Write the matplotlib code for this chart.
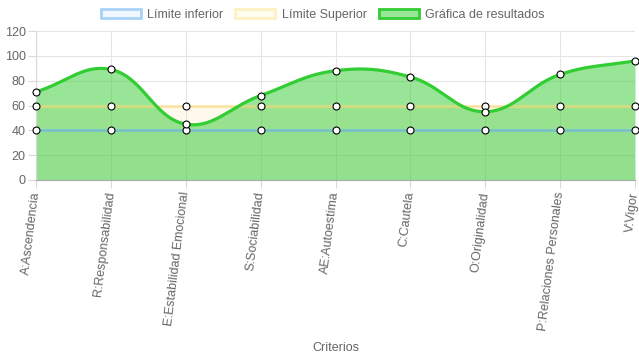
"""Line chart: results vs lower/upper limits per criterion."""

import matplotlib
matplotlib.use("Agg")
import matplotlib.pyplot as plt
import numpy as np
from matplotlib.patches import Rectangle

plt.rcParams["font.family"] = ["Liberation Sans", "DejaVu Sans"]

categories = [
    "A:Ascendencia",
    "R:Responsabilidad",
    "E:Estabilidad Emocional",
    "S:Sociabilidad",
    "AE:Autoestima",
    "C:Cautela",
    "O:Originalidad",
    "P:Relaciones Personales",
    "V:Vigor",
]
lower_limit = [40, 40, 40, 40, 40, 40, 40, 40, 40]
upper_limit = [60, 60, 60, 60, 60, 60, 60, 60, 60]
results = [71, 89, 45, 68, 88, 83, 55, 85, 96]
y_ticks = [0, 20, 40, 60, 80, 100, 120]

GREEN = "#32cd32"
GREEN_FILL = (50 / 255, 205 / 255, 50 / 255, 0.5)
BLUE = (110 / 255, 178 / 255, 235 / 255, 0.6)
BLUE_FILL = (54 / 255, 162 / 255, 235 / 255, 0.06)
YELLOW = (255 / 255, 222 / 255, 120 / 255, 0.55)
YELLOW_FILL = (255 / 255, 205 / 255, 86 / 255, 0.1)
TEXT = "#666666"


def spline_path(xp, yp, tension=0.4):
    """Chart.js-style bezier control points, computed in pixel space."""
    n = len(xp)
    cps = []
    for i in range(n):
        prev = np.array([xp[max(i - 1, 0)], yp[max(i - 1, 0)]])
        curr = np.array([xp[i], yp[i]])
        nxt = np.array([xp[min(i + 1, n - 1)], yp[min(i + 1, n - 1)]])
        d01 = np.hypot(*(curr - prev))
        d12 = np.hypot(*(nxt - curr))
        tot = d01 + d12
        s01 = d01 / tot if tot else 0
        s12 = d12 / tot if tot else 0
        cp1 = curr - tension * s01 * (nxt - prev)
        cp2 = curr + tension * s12 * (nxt - prev)
        cps.append((cp1, cp2))
    pts = []
    t = np.linspace(0, 1, 60)[:, None]
    for i in range(n - 1):
        p0 = np.array([xp[i], yp[i]])
        p1 = cps[i][1]
        p2 = cps[i + 1][0]
        p3 = np.array([xp[i + 1], yp[i + 1]])
        seg = ((1 - t) ** 3) * p0 + 3 * ((1 - t) ** 2) * t * p1 + 3 * (1 - t) * t ** 2 * p2 + t ** 3 * p3
        pts.append(seg if i == 0 else seg[1:])
    return np.vstack(pts)


fig = plt.figure(figsize=(6.39, 3.60), dpi=100)
ax = fig.add_axes([36 / 639, 1 - 180 / 360, (635 - 36) / 639, (180 - 31) / 360])
x = np.arange(len(categories))
ax.set_xlim(0, len(categories) - 1)
ax.set_ylim(0, 120)

# bezier in pixel space then back to data coords
fig.canvas.draw()
pix = ax.transData.transform(np.column_stack([x, results]))
curve_pix = spline_path(pix[:, 0], pix[:, 1])
y0 = ax.transData.transform((0, 0))[1]
y1 = ax.transData.transform((0, 120))[1]
curve_pix[:, 1] = np.clip(curve_pix[:, 1], y0, y1)
curve = ax.transData.inverted().transform(curve_pix)

ax.fill_between(x, 0, lower_limit, color=BLUE_FILL, lw=0, zorder=1)
ax.fill_between(x, 0, upper_limit, color=YELLOW_FILL, lw=0, zorder=1)
ax.fill_between(curve[:, 0], 0, curve[:, 1], color=GREEN_FILL, lw=0, zorder=2)

marker_kw = dict(marker="o", markersize=5, markerfacecolor="white", markeredgecolor="black",
                 markeredgewidth=0.8, clip_on=False)
ax.plot(x, lower_limit, color=BLUE, lw=2.2, zorder=3)
ax.plot(x, upper_limit, color=YELLOW, lw=2.2, zorder=3)
ax.plot(curve[:, 0], curve[:, 1], color=GREEN, lw=2.3, zorder=4, solid_capstyle="round")
ax.plot(x, lower_limit, ls="none", zorder=5, **marker_kw)
ax.plot(x, upper_limit, ls="none", zorder=5, **marker_kw)
ax.plot(x, results, ls="none", zorder=6, **marker_kw)

ax.set_yticks(y_ticks)
ax.set_xticks(x)
ax.set_xticklabels(categories, rotation=83, ha="right", va="center", rotation_mode="anchor")
ax.tick_params(axis="both", colors="#d9d9d9", labelcolor=TEXT, labelsize=9, length=5.5, width=0.8)
ax.tick_params(axis="y", pad=2)
ax.tick_params(axis="x", pad=3)
ax.grid(True, color="#e5e5e5", lw=0.8)
ax.set_axisbelow(True)
for side in ["top", "right"]:
    ax.spines[side].set_visible(False)
ax.spines["left"].set_color("#d9d9d9")
ax.spines["bottom"].set_color("#aaaaaa")
ax.set_xlabel("Criterios", color=TEXT, fontsize=9)
ax.xaxis.set_label_coords(0.5, -1.09)

handles = [
    Rectangle((0, 0), 1, 1, facecolor="#f0f7fe", edgecolor="#a8d2f8", lw=2),
    Rectangle((0, 0), 1, 1, facecolor="#fffcf2", edgecolor="#fff0c2", lw=2),
    Rectangle((0, 0), 1, 1, facecolor="#98e698", edgecolor=GREEN, lw=2),
]
fig.legend(handles, ["Límite inferior", "Límite Superior", "Gráfica de resultados"],
           loc="upper center", bbox_to_anchor=(0.505, 1.0), ncol=3, frameon=False,
           fontsize=9, labelcolor=TEXT, handlelength=3.2, handleheight=0.8,
           handletextpad=0.5, columnspacing=1.0, borderaxespad=0.3)

fig.savefig("out.png", dpi=100, facecolor="white")
